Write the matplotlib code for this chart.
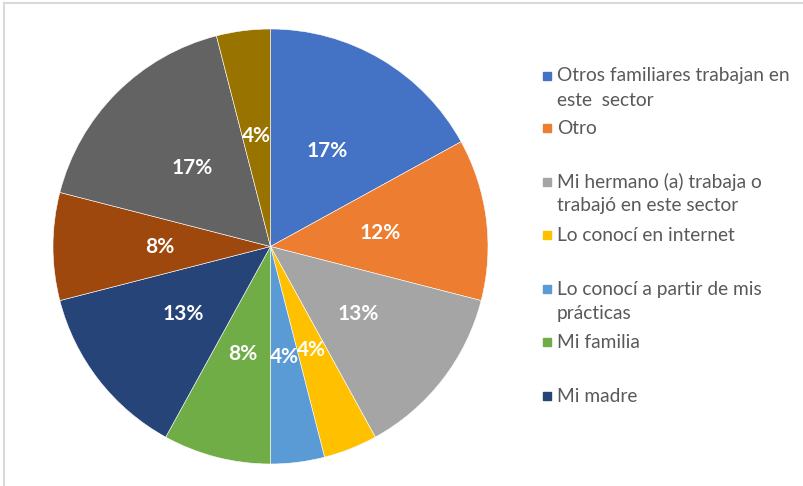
import matplotlib.pyplot as plt
from matplotlib.patches import Rectangle
from matplotlib.lines import Line2D

plt.rcParams['font.family'] = ['Lato', 'DejaVu Sans']

# Porcentaje de respuestas por motivo (en el sentido de las agujas del reloj)
valores = [17, 12, 13, 4, 4, 8, 13, 8, 17, 4]
colores = ['#4472C4', '#ED7D31', '#A5A5A5', '#FFC000', '#5B9BD5',
           '#70AD47', '#264478', '#9E480E', '#636363', '#997300']
leyenda = [
    'Otros familiares trabajan en\neste  sector',
    'Otro',
    'Mi hermano (a) trabaja o\ntrabajó en este sector',
    'Lo conocí en internet',
    'Lo conocí a partir de mis\nprácticas',
    'Mi familia',
    'Mi madre',
]

W, H = 804, 486
fig = plt.figure(figsize=(W / 100, H / 100), dpi=100)

# marco gris del gráfico
fig.add_artist(Line2D([4 / W, 1], [1 - 3.5 / H] * 2, color='#d9d9d9', lw=1.5))
fig.add_artist(Line2D([4.5 / W] * 2, [0, 1 - 3.5 / H], color='#d9d9d9', lw=1.5))

cx, cy, r = 270.5, 246.5, 217.5
ax = fig.add_axes([(cx - r) / W, (H - cy - r) / H, 2 * r / W, 2 * r / H])
wedges, _, autotexts = ax.pie(
    valores, colors=colores, startangle=90, counterclock=False,
    autopct=lambda p: f'{p:.0f}%', pctdistance=0.51, radius=1,
    wedgeprops=dict(edgecolor='white', linewidth=0.4))
for t in autotexts:
    t.set_color('white')
    t.set_fontsize(15)
    t.set_fontweight('bold')
ax.set_xlim(-1, 1)
ax.set_ylim(-1, 1)
ax.set_aspect('equal')
ax.axis('off')

# leyenda a la derecha
y_entradas = [76, 128, 182, 235, 289, 342, 396]
for etiqueta, color, y in zip(leyenda, colores, y_entradas):
    fig.add_artist(Rectangle(((543) / W, 1 - (y + 4) / H), 8 / W, 8 / H,
                             color=color, transform=fig.transFigure))
    for i, linea in enumerate(etiqueta.split('\n')):
        fig.text(557 / W, 1 - (y + 24 * i) / H, linea, fontsize=13.8,
                 color='#595959', va='center', ha='left')

fig.savefig('out.png', dpi=100)
